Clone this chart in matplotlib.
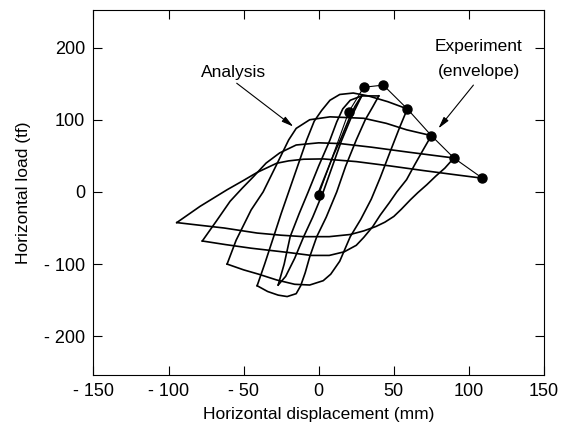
import matplotlib
matplotlib.use("Agg")
from matplotlib import pyplot as plt
import numpy as np

plt.rcParams['font.family'] = ['Liberation Sans', 'DejaVu Sans']

# analysis hysteresis, one list of (disp, load) per half cycle
initial = [(0, 0), (5, 26), (10, 52), (15, 75), (20, 100), (24, 118), (27, 128), (28.6, 133)]
down0 = [(28.6, 133), (22, 105), (15, 70), (9, 35), (3, 0), (-4, -35), (-10, -62),
         (-16, -92), (-22, -117), (-27, -129)]
up1 = [(-27, -129), (-23, -100), (-19, -62), (-13, -30), (-7, 0), (0, 36), (7.5, 72),
       (12, 97), (16, 115), (21, 127), (28.6, 133), (40, 133)]
down1 = [(40, 133), (36, 118), (31, 100), (25, 72), (18, 36), (12, 0), (5, -35),
         (-1.3, -62), (-6, -90), (-9, -112), (-12, -130), (-15, -141), (-21, -145),
         (-27, -143), (-34, -138), (-41, -130)]
up2 = [(-41, -130), (-36, -100), (-30, -62), (-25, -30), (-20, 0), (-14, 36), (-8, 72),
       (-3, 98), (2, 113), (7.5, 127), (14, 135), (23, 137), (33, 133), (46, 125), (59, 115)]
down2 = [(59, 115), (54, 90), (48, 58), (41, 20), (35, -10), (28, -38), (21, -62),
         (14, -96), (8, -114), (3, -123), (-6, -129), (-16, -128), (-28, -122),
         (-40, -114), (-50, -108), (-61, -100)]
up3 = [(-61, -100), (-55, -67), (-45, -25), (-37, 0), (-28, 38), (-20, 72), (-15, 88),
       (-6, 100), (7.5, 104), (30, 102), (45, 95), (58.6, 86), (75, 78)]
down3 = [(75, 78), (70, 60), (64, 38), (58.5, 17), (52, 0), (47, -15), (41, -32),
         (36, -48), (30, -63), (25, -74), (17, -83), (7, -88), (-5, -88), (-20, -84),
         (-45, -78), (-62, -73), (-77.5, -68)]
up4 = [(-77.5, -68), (-68, -40), (-59, -13), (-51, 5), (-43.5, 21), (-35, 40), (-26, 54),
       (-15, 65), (0, 68), (14, 67), (35, 62), (60, 55), (75, 51), (90, 47)]
down4 = [(90, 47), (84, 33), (78, 22), (72, 10), (66, -1), (61, -11), (55, -24),
         (50, -34), (44, -42), (38, -48), (30, -54), (21, -59), (7, -62), (-10, -62),
         (-25, -60), (-41, -57), (-63, -50), (-80, -46), (-94.5, -42.5)]
up5 = [(-94.5, -42.5), (-79, -20), (-61, 3), (-50, 16), (-41, 27), (-28, 39.7), (-20, 43),
       (-10, 45.3), (3, 45.7), (25, 42), (47.5, 36), (70, 29.5), (92, 23.5), (109, 19)]

# experiment envelope
exp_disp = [0, 20, 30, 43, 59, 75, 90, 109]
exp_load = [-4, 111, 145, 148, 115, 78, 47, 19]

xticks = [-150, -100, -50, 0, 50, 100, 150]
yticks = [-200, -100, 0, 100, 200]

fig = plt.figure(figsize=(5.7, 4.25), dpi=100)
ax = fig.add_axes([0.1639, 0.1188, 0.7905, 0.8576])

for branch in [initial, down0, up1, down1, up2, down2, up3, down3, up4, down4, up5]:
    b = np.array(branch)
    ax.plot(b[:, 0], b[:, 1], color="black", linewidth=1.2, solid_joinstyle="round")

ax.plot(exp_disp, exp_load, color="black", linewidth=0.8, zorder=3)
ax.plot(exp_disp, exp_load, "o", color="black", markersize=6.5, zorder=4)

arrow = dict(arrowstyle="-|>,head_width=0.18,head_length=0.7", color="black", lw=0.8,
             shrinkA=0, shrinkB=0)
ax.text(-57, 166, "Analysis", ha="center", va="center", fontsize=12.5)
ax.annotate("", xy=(-16.9, 90.5), xytext=(-54.6, 150.6), arrowprops=arrow)
ax.text(106.5, 201, "Experiment", ha="center", va="center", fontsize=12.5)
ax.text(106.5, 167, "(envelope)", ha="center", va="center", fontsize=12.5)
ax.annotate("", xy=(79.7, 88), xytext=(103, 148), arrowprops=arrow)

ax.set_xlim(-150, 150)
ax.set_ylim(-253, 252)
ax.set_xticks(xticks)
ax.set_yticks(yticks)
ax.set_xticklabels([("- %d" % -v) if v < 0 else str(v) for v in xticks])
ax.set_yticklabels([("- %d" % -v) if v < 0 else str(v) for v in yticks])
ax.tick_params(direction="in", length=6.5, width=0.8, top=True, right=True,
               labelsize=13, pad=6)
for s in ax.spines.values():
    s.set_linewidth(0.8)

ax.set_xlabel("Horizontal displacement (mm)", fontsize=12.5, labelpad=5)
ax.set_ylabel("Horizontal load (tf)", fontsize=12.5, labelpad=9)

fig.savefig("out.png", dpi=100)
